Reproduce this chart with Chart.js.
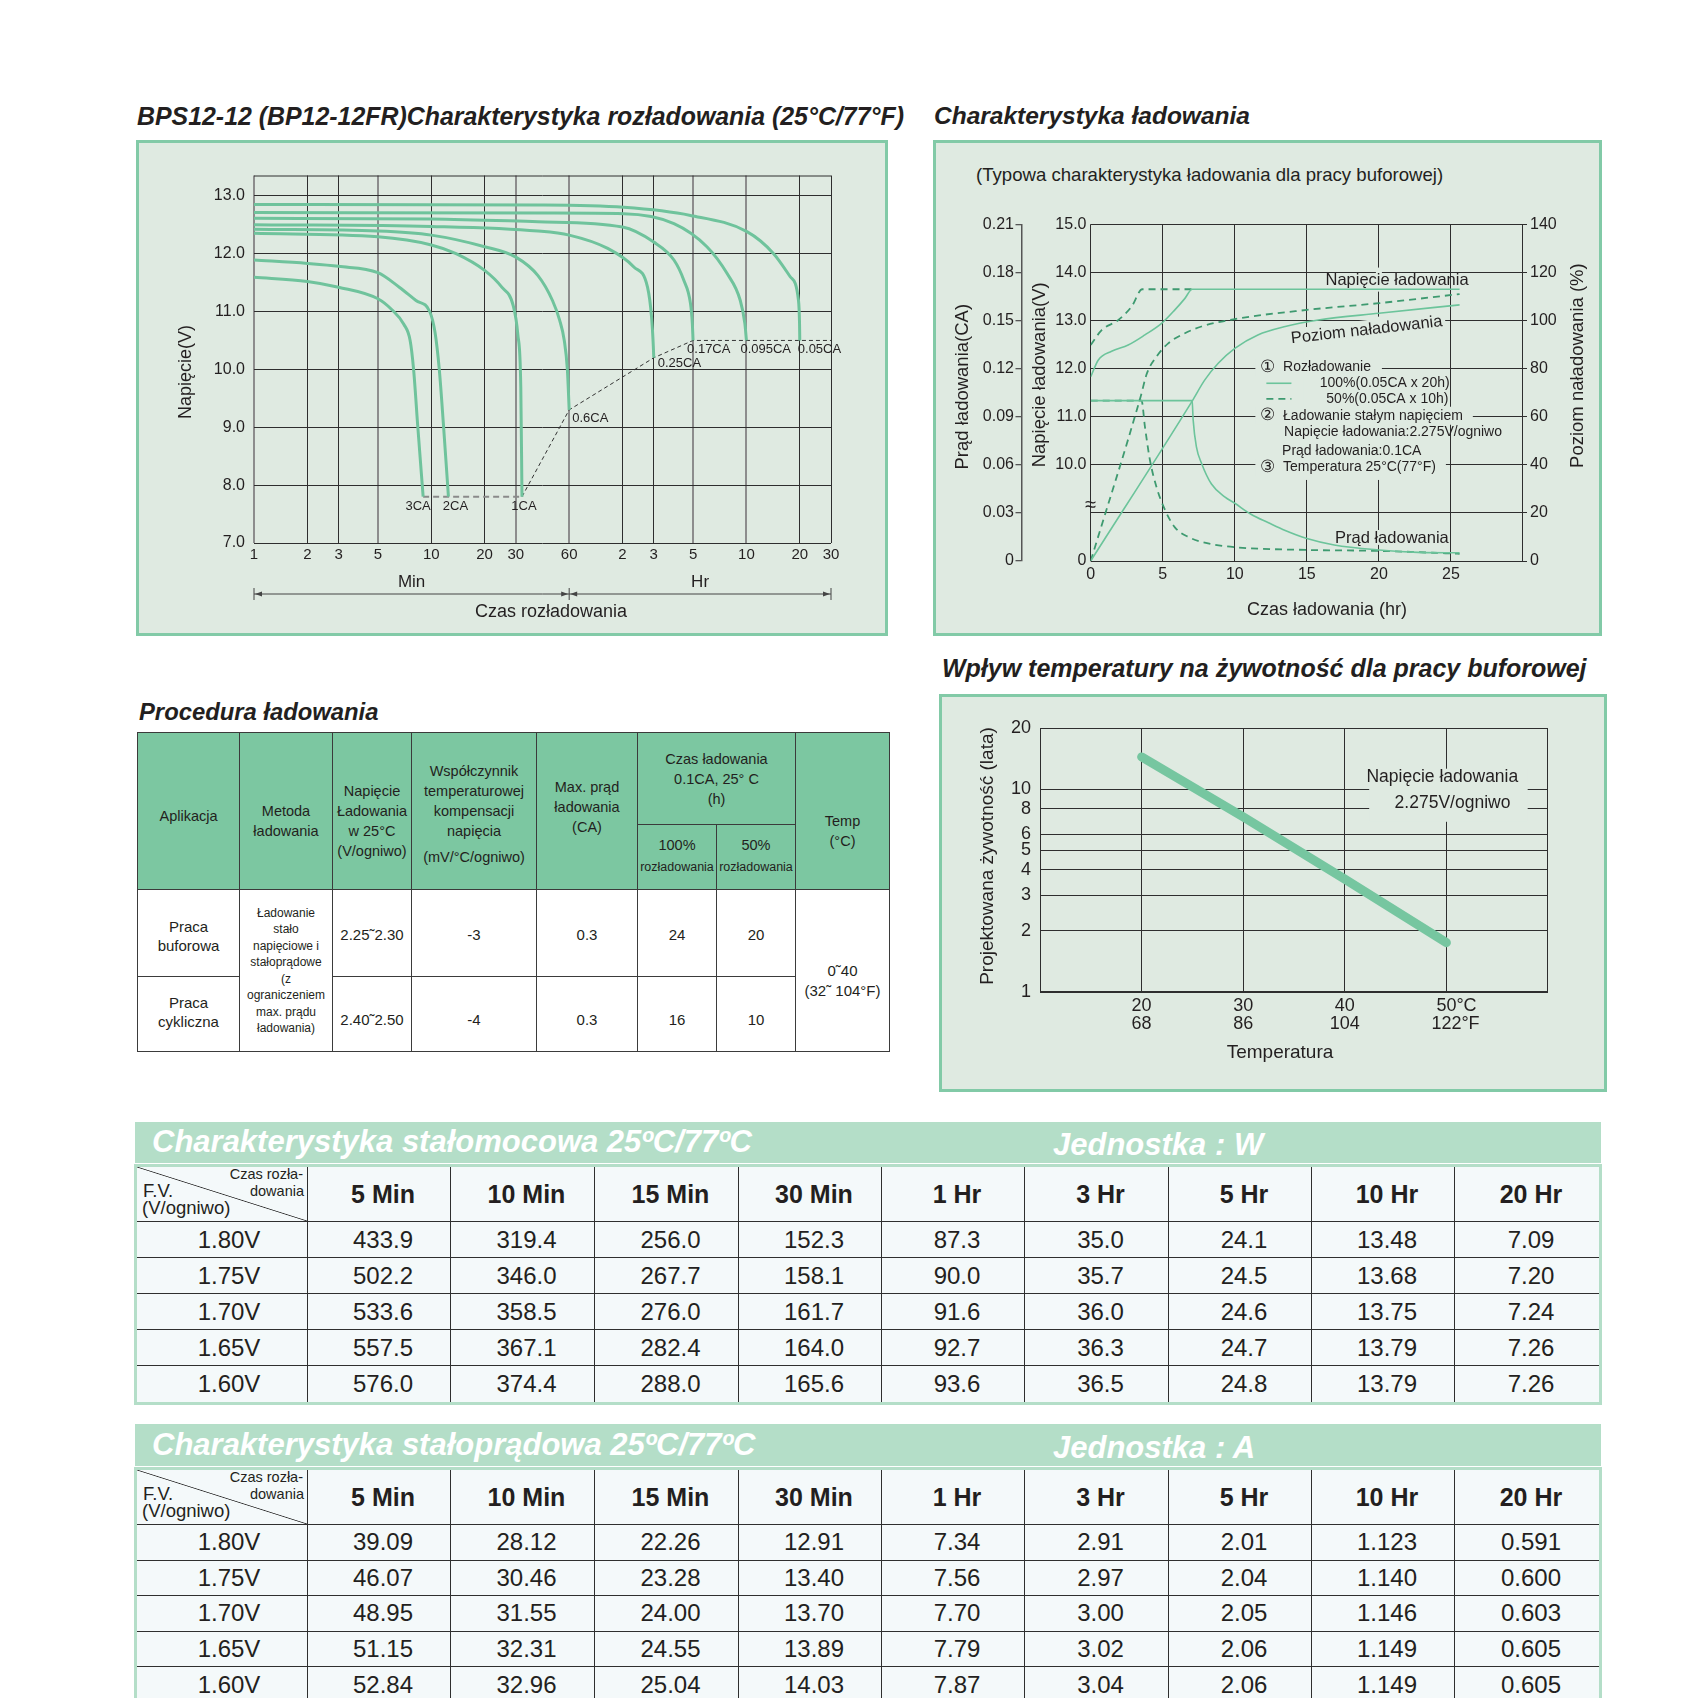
<!DOCTYPE html>
<html lang="pl">
<head>
<meta charset="UTF-8">
<meta name="viewport" content="width=device-width, initial-scale=1.0">
<title>BPS12-12 (BP12-12FR) - charakterystyki</title>
<script src="https://cdn.jsdelivr.net/npm/chart.js"></script>
<style>
  body { margin: 0; background: #fff; font-family: "Liberation Sans", Arial, sans-serif; color: #231f20; }
  #page { position: relative; width: 1693px; height: 1698px; overflow: hidden; }
  .title { position: absolute; font-size: 24.5px; line-height: 24px; font-weight: bold; font-style: italic; white-space: nowrap; }
  .panel { position: absolute; box-sizing: border-box; border: 3px solid #82caa7; background: #dfeae1; }
  .chart { position: absolute; }
  .note { position: absolute; font-size: 18.6px; line-height: 18px; white-space: nowrap; }

  .proc { position: absolute; left: 137px; top: 732px; display: grid;
          grid-template-columns: 102px 93px 79px 125px 101px 79px 79px 94px;
          grid-template-rows: 92px 65px 87px 75px;
          border-top: 1px solid #3b3b3b; border-left: 1px solid #3b3b3b; }
  .proc div { box-sizing: border-box; border-right: 1px solid #3b3b3b; border-bottom: 1px solid #3b3b3b;
              display: flex; flex-direction: column; align-items: center; justify-content: center;
              text-align: center; font-size: 14.5px; line-height: 20px; background: #fff; }
  .proc .hd { background: #7cc7a1; }
  .proc .small { font-size: 12.5px; line-height: 24px; }
  .proc .body { font-size: 15px; line-height: 19.5px; }
  .proc .method { font-size: 12px; line-height: 16.5px; }

  .banner { position: absolute; left: 135px; width: 1466px; background: #b4dec8; }
  .banner span { position: absolute; color: #fff; font-size: 31px; line-height: 31px; font-weight: bold; font-style: italic; white-space: nowrap; }
  .dt { position: absolute; left: 134px; display: grid;
        grid-template-columns: 171px 143px 144px 144px 143px 143px 144px 143px 143px 144px;
        border: 3px solid #b4dec8; background: #f4f9fa; }
  .dt div { box-sizing: border-box; border-right: 1px solid #2f2f2f; border-bottom: 1px solid #2f2f2f;
            display: flex; align-items: center; justify-content: center; font-size: 24px; padding-left: 8px; }
  .dt .fv { padding-left: 14px; }
  .dt .hd { font-weight: bold; font-size: 25px; }
  .dt .lc { border-right: none; }
  .dt .lr { border-bottom: none; }
  .dt .corner { position: relative; display: block; padding-left: 0;
                background: linear-gradient(to top right, transparent calc(50% - 0.8px), #333 50%, transparent calc(50% + 0.8px)); }
  .corner span { position: absolute; white-space: nowrap; }
  .corner .c1 { right: 4px; top: 0px; font-size: 14.5px; line-height: 15px; }
  .corner .c2 { right: 3px; top: 17px; font-size: 14.5px; line-height: 15px; }
  .corner .c3 { left: 6px; top: 15px; font-size: 18.5px; line-height: 17px; }
  .corner .c4 { left: 5px; top: 32px; font-size: 18.5px; line-height: 17px; }
</style>
</head>
<body>
<div id="page">

  <!-- titles -->
  <div class="title" style="left:137px; top:104px; font-size:24.9px;">BPS12-12 (BP12-12FR)Charakterystyka rozładowania (25°C/77°F)</div>
  <div class="title" style="left:934px; top:104px;">Charakterystyka ładowania</div>
  <div class="title" style="left:139px; top:700px; font-size:23.8px;">Procedura ładowania</div>
  <div class="title" style="left:942px; top:656px; font-size:25px;">Wpływ temperatury na żywotność dla pracy buforowej</div>

  <!-- chart panels -->
  <div class="panel" style="left:136px; top:140px; width:752px; height:496px;"></div>
  <div class="chart" style="left:136px; top:140px; width:752px; height:496px;"><canvas id="dischargeChart"></canvas></div>

  <div class="panel" style="left:933px; top:140px; width:669px; height:496px;"></div>
  <div class="note" style="left:976px; top:166px;">(Typowa charakterystyka ładowania dla pracy buforowej)</div>
  <div class="chart" style="left:933px; top:140px; width:669px; height:496px;"><canvas id="chargeChart"></canvas></div>

  <div class="panel" style="left:939px; top:694px; width:668px; height:398px;"></div>
  <div class="chart" style="left:939px; top:694px; width:668px; height:398px;"><canvas id="lifeChart"></canvas></div>

  <!-- charging procedure table -->
  <div class="proc">
    <div class="hd" style="grid-column:1; grid-row:1 / 3; padding-top:10px;">Aplikacja</div>
    <div class="hd" style="grid-column:2; grid-row:1 / 3; padding-top:19px;">Metoda<br>ładowania</div>
    <div class="hd" style="grid-column:3; grid-row:1 / 3; padding-top:19px;">Napięcie<br>Ładowania<br>w 25°C<br>(V/ogniwo)</div>
    <div class="hd" style="grid-column:4; grid-row:1 / 3; padding-top:5px;">Współczynnik<br>temperaturowej<br>kompensacji<br>napięcia<br><span style="margin-top:6px;">(mV/°C/ogniwo)</span></div>
    <div class="hd" style="grid-column:5; grid-row:1 / 3; padding-bottom:8px;">Max. prąd<br>ładowania<br>(CA)</div>
    <div class="hd" style="grid-column:6 / 8; grid-row:1;">Czas ładowania<br>0.1CA, 25° C<br>(h)</div>
    <div class="hd" style="grid-column:6; grid-row:2;">100%<span class="small">rozładowania</span></div>
    <div class="hd" style="grid-column:7; grid-row:2;">50%<span class="small">rozładowania</span></div>
    <div class="hd" style="grid-column:8; grid-row:1 / 3; padding-top:40px;">Temp<br>(°C)</div>

    <div class="body" style="grid-column:1; grid-row:3; padding-top:6px;">Praca<br>buforowa</div>
    <div class="method" style="grid-column:2; grid-row:3 / 5;">Ładowanie<br>stało<br>napięciowe i<br>stałoprądowe<br>(z<br>ograniczeniem<br>max. prądu<br>ładowania)</div>
    <div class="body" style="grid-column:3; grid-row:3; padding-top:4px;">2.25˜2.30</div>
    <div class="body" style="grid-column:4; grid-row:3; padding-top:4px;">-3</div>
    <div class="body" style="grid-column:5; grid-row:3; padding-top:4px;">0.3</div>
    <div class="body" style="grid-column:6; grid-row:3; padding-top:4px;">24</div>
    <div class="body" style="grid-column:7; grid-row:3; padding-top:4px;">20</div>
    <div class="body" style="grid-column:8; grid-row:3 / 5; padding-top:20px;">0˜40<br>(32˜ 104°F)</div>

    <div class="body" style="grid-column:1; grid-row:4; padding-bottom:4px;">Praca<br>cykliczna</div>
    <div class="body" style="grid-column:3; grid-row:4; padding-top:12px;">2.40˜2.50</div>
    <div class="body" style="grid-column:4; grid-row:4; padding-top:12px;">-4</div>
    <div class="body" style="grid-column:5; grid-row:4; padding-top:12px;">0.3</div>
    <div class="body" style="grid-column:6; grid-row:4; padding-top:12px;">16</div>
    <div class="body" style="grid-column:7; grid-row:4; padding-top:12px;">10</div>
  </div>

  <!-- constant power / constant current tables -->
  <div class="banner" style="top:1122px; height:41px;">
    <span style="left:17px; top:4px;">Charakterystyka stałomocowa 25ºC/77ºC</span>
    <span style="left:918px; top:7px;">Jednostka : W</span>
  </div>
  <div class="dt" id="powerTable" style="top:1164px;"></div>

  <div class="banner" style="top:1424px; height:42px;">
    <span style="left:17px; top:5px;">Charakterystyka stałoprądowa 25ºC/77ºC</span>
    <span style="left:918px; top:8px;">Jednostka : A</span>
  </div>
  <div class="dt" id="currentTable" style="top:1467px;"></div>
</div>

<script>
// ---------- discharge curves: [minutes, volts] ----------
const dischargeRates = ['3CA', '2CA', '1CA', '0.6CA', '0.25CA', '0.17CA', '0.095CA', '0.05CA'];
const c3CA   = [[1, 11.59], [2, 11.52], [3, 11.42], [5, 11.22], [6, 11.03], [7, 10.78], [7.6, 10.5], [7.95, 10.0], [8.4, 9.0], [9, 7.8]];
const c2CA   = [[1, 11.89], [2, 11.83], [3, 11.78], [5, 11.67], [6.6, 11.42], [8.2, 11.19], [9.8, 11.0], [10.5, 10.64], [11.1, 10.0], [11.7, 9.07], [12.5, 7.8]];
const c1CA   = [[1, 12.35], [5, 12.29], [10, 12.15], [13.8, 12.0], [20, 11.71], [25, 11.42], [29, 11.1], [30.8, 10.6], [32, 9.7], [32.5, 7.8]];
const c06CA  = [[1, 12.42], [5, 12.39], [10, 12.32], [20, 12.12], [30, 11.94], [40, 11.62], [48.3, 11.19], [53, 10.85], [56.3, 10.5], [58.6, 10.0], [60, 9.3]];
const c025CA = [[1, 12.50], [10, 12.47], [40, 12.39], [60, 12.32], [99, 12.09], [139, 11.77], [166, 11.42], [175, 10.9], [179, 10.4], [180, 10.2]];
const c017CA = [[1, 12.61], [10, 12.60], [40, 12.55], [120, 12.46], [180, 12.20], [234, 11.89], [266, 11.54], [290, 11.14], [297, 10.8], [300, 10.5]];
const c0095CA = [[1, 12.71], [46, 12.70], [122, 12.69], [234, 12.52], [359, 12.12], [466, 11.66], [554, 11.19], [588, 10.79], [600, 10.5]];
const c005CA = [[1, 12.85], [40, 12.84], [122, 12.80], [290, 12.66], [604, 12.38], [854, 12.0], [1060, 11.60], [1180, 11.19], [1196, 10.8], [1200, 10.5]];
const dischargeCurves = [c3CA, c2CA, c1CA, c06CA, c025CA, c017CA, c0095CA, c005CA];
const cutoffLine = [[9, 7.8], [12.5, 7.8], [32.5, 7.8], [60, 9.3], [180, 10.2], [300, 10.5], [1800, 10.5]];
const dischargeTicks = [1, 2, 3, 5, 10, 20, 30, 60, 120, 180, 300, 600, 1200, 1800];
const dischargeTickLabels = ['1', '2', '3', '5', '10', '20', '30', '60', '2', '3', '5', '10', '20', '30'];
const greyTimeLines = [1, 5, 30, 60, 300, 600];
const voltTicks = [7, 8, 9, 10, 11, 12, 13];

// ---------- charging characteristics: [hours, value] ----------
const chargeVolt100 = [[0, 11.83], [0.53, 12.18], [1.45, 12.36], [2.6, 12.49], [3.76, 12.70], [4.92, 12.94], [5.84, 13.22], [6.54, 13.46], [7.04, 13.65], [25.6, 13.65]];
const chargeVolt50  = [[0, 12.49], [0.76, 12.80], [1.92, 13.01], [2.84, 13.29], [3.58, 13.65], [7.04, 13.65]];
const level100 = [[0, 0], [7.04, 66.5], [7.92, 75.3], [8.85, 82.2], [10, 88.4], [11.6, 94.0], [13.5, 97.5], [15.8, 100.2], [20, 103], [25.6, 106.5]];
const level50  = [[0, 0], [3.45, 68], [3.9, 78], [4.57, 85], [5.38, 90.5], [6.54, 94.7], [7.69, 97.5], [10, 100.6], [15, 104.4], [20, 107.2], [25.6, 111]];
const current100 = [[0, 0.1], [7.04, 0.1], [7.11, 0.088], [7.34, 0.071], [7.69, 0.061], [8.38, 0.048], [9.3, 0.040], [10, 0.036], [11.15, 0.029], [12.3, 0.024], [13.5, 0.019], [15, 0.014], [16.9, 0.010], [20, 0.0069], [22.7, 0.0054], [25.6, 0.0051]];
const current50  = [[0, 0.1], [3.53, 0.1], [3.76, 0.084], [4.11, 0.063], [4.57, 0.046], [5.15, 0.032], [5.84, 0.021], [6.77, 0.015], [8.15, 0.011], [10, 0.0086], [15, 0.0069], [20, 0.0063], [25.6, 0.0045]];
const chargeHourTicks = [0, 5, 10, 15, 20, 25];
const currentTicks = [0, 0.03, 0.06, 0.09, 0.12, 0.15, 0.18, 0.21];
const currentTickLabels = ['0', '0.03', '0.06', '0.09', '0.12', '0.15', '0.18', '0.21'];
const chargeVoltTicks = [8, 10, 11, 12, 13, 14, 15];          // axis is broken below 10 V
const chargeVoltTickLabels = ['0', '10.0', '11.0', '12.0', '13.0', '14.0', '15.0'];
const levelTicks = [0, 20, 40, 60, 80, 100, 120, 140];

// ---------- float life vs temperature ----------
const tempC = [20, 30, 40, 50];
const lifeYears = [14.4, 7.3, 3.6, 1.75];
const tempTicks = [20, 30, 40, 50];
const tempTickLabels = [['20', '68'], ['30', '86'], ['40', '104'], ['50°C', '122°F']];
const lifeTicks = [1, 2, 3, 4, 5, 6, 8, 10, 20];

// ---------- tables ----------
const durationHeaders = ['5 Min', '10 Min', '15 Min', '30 Min', '1 Hr', '3 Hr', '5 Hr', '10 Hr', '20 Hr'];
const finalVoltages = ['1.80V', '1.75V', '1.70V', '1.65V', '1.60V'];
const powerW = [
  ['433.9', '319.4', '256.0', '152.3', '87.3', '35.0', '24.1', '13.48', '7.09'],
  ['502.2', '346.0', '267.7', '158.1', '90.0', '35.7', '24.5', '13.68', '7.20'],
  ['533.6', '358.5', '276.0', '161.7', '91.6', '36.0', '24.6', '13.75', '7.24'],
  ['557.5', '367.1', '282.4', '164.0', '92.7', '36.3', '24.7', '13.79', '7.26'],
  ['576.0', '374.4', '288.0', '165.6', '93.6', '36.5', '24.8', '13.79', '7.26']
];
const currentA = [
  ['39.09', '28.12', '22.26', '12.91', '7.34', '2.91', '2.01', '1.123', '0.591'],
  ['46.07', '30.46', '23.28', '13.40', '7.56', '2.97', '2.04', '1.140', '0.600'],
  ['48.95', '31.55', '24.00', '13.70', '7.70', '3.00', '2.05', '1.146', '0.603'],
  ['51.15', '32.31', '24.55', '13.89', '7.79', '3.02', '2.06', '1.149', '0.605'],
  ['52.84', '32.96', '25.04', '14.03', '7.87', '3.04', '2.06', '1.149', '0.605']
];

function buildDataTable(id, values, rowH) {
  const el = document.getElementById(id);
  el.style.gridTemplateRows = '55px repeat(' + finalVoltages.length + ', ' + rowH + 'px)';
  let html = '<div class="corner"><span class="c1">Czas rozła-</span><span class="c2">dowania</span>' +
             '<span class="c3">F.V.</span><span class="c4">(V/ogniwo)</span></div>';
  durationHeaders.forEach((h, j) => {
    html += '<div class="hd' + (j === durationHeaders.length - 1 ? ' lc' : '') + '">' + h + '</div>';
  });
  finalVoltages.forEach((fv, i) => {
    const lr = i === finalVoltages.length - 1 ? ' lr' : '';
    html += '<div class="fv' + lr + '">' + fv + '</div>';
    values[i].forEach((v, j) => {
      html += '<div class="' + (j === values[i].length - 1 ? 'lc' : '') + lr + '">' + v + '</div>';
    });
  });
  el.innerHTML = html;
}
buildDataTable('powerTable', powerW, 36);
buildDataTable('currentTable', currentA, 35.5);

// ---------- charts ----------
const FONT = '"Liberation Sans", Arial, sans-serif';
const TEXT = '#231f20';
const GRID = '#2e2e2e';
const PANEL_BG = '#dfeae1';
const CURVE = '#6fc39c';
const SOLID = '#6cc49b';
const DASHED = '#3e9a70';

Chart.defaults.font.family = FONT;
Chart.defaults.color = TEXT;
Chart.defaults.animation = false;
Chart.defaults.plugins.legend.display = false;
Chart.defaults.plugins.tooltip.enabled = false;
Chart.defaults.elements.point.radius = 0;

const toXY = arr => arr.map(p => ({ x: p[0], y: p[1] }));
const setTicks = list => scale => { scale.ticks = list.map(v => ({ value: v })); };

// axis titles drawn by hand so they can sit where the original has them
function drawTitles(ctx, titles) {
  ctx.save();
  ctx.fillStyle = TEXT; ctx.textAlign = 'center'; ctx.textBaseline = 'middle';
  titles.forEach(([text, tx, ty, size, rotated]) => {
    ctx.font = size + 'px ' + FONT;
    ctx.save(); ctx.translate(tx, ty);
    if (rotated) ctx.rotate(-Math.PI / 2);
    ctx.fillText(text, 0, 0);
    ctx.restore();
  });
  ctx.restore();
}

// label offsets (px) from the end of each discharge curve
const rateLabelOffset = {
  '3CA': [-5, 10, 'center'], '2CA': [7, 10, 'center'], '1CA': [2, 10, 'center'],
  '0.6CA': [3, 9, 'left'], '0.25CA': [4, 6, 'left'], '0.17CA': [-6, 9, 'left'],
  '0.095CA': [-6, 9, 'left'], '0.05CA': [-2, 9, 'left']
};

const dischargeExtras = {
  id: 'dischargeExtras',
  beforeDatasetsDraw(chart) {
    const { ctx, chartArea: a } = chart;
    ctx.save();
    ctx.strokeStyle = GRID; ctx.lineWidth = 1;
    ctx.beginPath(); ctx.moveTo(a.left, a.top + 0.5); ctx.lineTo(a.right, a.top + 0.5); ctx.stroke();
    ctx.restore();
  },
  afterDatasetsDraw(chart) {
    const { ctx, chartArea: a, scales: { x, y } } = chart;
    ctx.save();
    ctx.fillStyle = TEXT; ctx.textBaseline = 'middle';
    ctx.font = '13px ' + FONT;
    dischargeRates.forEach((rate, i) => {
      const curve = dischargeCurves[i];
      const end = curve[curve.length - 1];
      const [dx, dy, align] = rateLabelOffset[rate];
      ctx.textAlign = align;
      ctx.fillText(rate, x.getPixelForValue(end[0]) + dx, y.getPixelForValue(end[1]) + dy);
    });
    // Min / Hr bracket under the axis
    const x1 = x.getPixelForValue(1), x60 = x.getPixelForValue(60), xEnd = x.getPixelForValue(1800);
    const yText = a.bottom + 39, yLine = a.bottom + 51;
    ctx.font = '17px ' + FONT; ctx.textAlign = 'center';
    ctx.fillText('Min', (x1 + x60) / 2, yText);
    ctx.fillText('Hr', (x60 + xEnd) / 2, yText);
    ctx.strokeStyle = '#444'; ctx.lineWidth = 1;
    ctx.beginPath();
    ctx.moveTo(x1, yLine); ctx.lineTo(xEnd, yLine);
    [x1, x60, xEnd].forEach(px => { ctx.moveTo(px, yLine - 6); ctx.lineTo(px, yLine + 6); });
    ctx.stroke();
    ctx.fillStyle = '#444';
    const arrow = (px, dir) => {
      ctx.beginPath(); ctx.moveTo(px, yLine); ctx.lineTo(px + dir * 7, yLine - 2.5); ctx.lineTo(px + dir * 7, yLine + 2.5);
      ctx.closePath(); ctx.fill();
    };
    arrow(x1 + 1, 1); arrow(x60 - 1, -1); arrow(x60 + 1, 1); arrow(xEnd - 1, -1);
    ctx.restore();
    drawTitles(ctx, [['Czas rozładowania', (a.left + a.right) / 2 + 8.5, 472, 18, false],
                     ['Napięcie(V)', 50, 232, 18, true]]);
  }
};

new Chart(document.getElementById('dischargeChart'), {
  type: 'line',
  data: {
    datasets: [
      ...dischargeCurves.map(c => ({ data: toXY(c), borderColor: CURVE, borderWidth: 3, cubicInterpolationMode: 'monotone' })),
      {
        data: toXY(cutoffLine), borderColor: '#333', borderWidth: 1, borderDash: [4, 3],
        segment: {
          borderColor: s => s.p1DataIndex <= 2 ? '#8a8a8a' : '#333',
          borderWidth: s => s.p1DataIndex <= 2 ? 2 : 1,
          borderDash: s => s.p1DataIndex <= 2 ? [6, 4] : [4, 3]
        }
      }
    ]
  },
  options: {
    responsive: true, maintainAspectRatio: false,
    layout: { padding: { top: 35.5, right: 57, left: 0, bottom: 0 } },
    scales: {
      x: {
        type: 'logarithmic', min: 1, max: 1800,
        afterBuildTicks: setTicks(dischargeTicks),
        afterFit: s => { s.height = 93; },
        ticks: { autoSkip: false, maxRotation: 0, padding: 3, font: { size: 15 }, callback: (v, i) => dischargeTickLabels[i] },
        grid: {
          drawTicks: false,
          color: c => greyTimeLines.includes(c.tick && c.tick.value) ? '#8d8d8d' : GRID,
          lineWidth: c => greyTimeLines.includes(c.tick && c.tick.value) ? 2 : 1
        },
        border: { display: false }
      },
      y: {
        min: 7, max: 13.35,
        afterBuildTicks: setTicks(voltTicks),
        afterFit: s => { s.width = 118; },
        ticks: { padding: 9, font: { size: 16 }, callback: v => v.toFixed(1) },
        grid: { drawTicks: false, color: GRID },
        border: { display: false }
      }
    }
  },
  plugins: [dischargeExtras]
});

// charging chart annotations (positions in hours / % of the right axis)
const chargeLegend = [
  { sym: '①', text: 'Rozładowanie', x: 13.35, y: 80.5, gap: true },
  { text: '100%(0.05CA x 20h)', x: 15.89, y: 73.9, sample: 'solid' },
  { text: '50%(0.05CA x 10h)', x: 16.35, y: 67.4, sample: 'dash' },
  { sym: '②', text: 'Ładowanie stałym napięciem', x: 13.35, y: 60.4, gap: true },
  { text: 'Napięcie ładowania:2.275V/ogniwo', x: 13.42, y: 53.4 },
  { text: 'Prąd ładowania:0.1CA', x: 13.28, y: 45.7 },
  { sym: '③', text: 'Temperatura 25°C(77°F)', x: 13.35, y: 39.0, gap: true }
];
const gridGaps = [[15, 33.7, 96], [20, 33.7, 101.6], [20, 112, 122], [20, 6.7, 12.9]];

const chargeExtras = {
  id: 'chargeExtras',
  beforeDatasetsDraw(chart) {
    const { ctx, chartArea: a, scales: { x, yP } } = chart;
    ctx.save();
    // right frame line
    ctx.strokeStyle = GRID; ctx.lineWidth = 1;
    ctx.beginPath(); ctx.moveTo(a.right - 0.5, a.top); ctx.lineTo(a.right - 0.5, a.bottom); ctx.stroke();
    ctx.fillStyle = PANEL_BG;
    gridGaps.forEach(([hx, lo, hi]) => {
      const px = x.getPixelForValue(hx);
      ctx.fillRect(px - 3, yP.getPixelForValue(hi), 6, yP.getPixelForValue(lo) - yP.getPixelForValue(hi));
    });
    ctx.font = '14px ' + FONT;
    chargeLegend.filter(l => l.gap).forEach(l => {
      const x0 = x.getPixelForValue(12.26) - 12;
      const x1 = x.getPixelForValue(l.x) + ctx.measureText(l.text).width + 10;
      const py = yP.getPixelForValue(l.y);
      ctx.fillRect(x0, py - 9, x1 - x0, 18);
    });
    // background behind the slanted label
    ctx.font = '16.5px ' + FONT;
    const w = ctx.measureText('Poziom naładowania').width;
    ctx.translate(x.getPixelForValue(19.15), yP.getPixelForValue(96));
    ctx.rotate(-6.5 * Math.PI / 180);
    ctx.fillRect(-w / 2 - 3, -10, w + 6, 20);
    ctx.restore();
  },
  afterDatasetsDraw(chart) {
    const { ctx, chartArea: a, scales: { x, yP, yV } } = chart;
    ctx.save();
    ctx.fillStyle = TEXT; ctx.textBaseline = 'middle';
    ctx.font = '16.5px ' + FONT; ctx.textAlign = 'center';
    ctx.fillText('Napięcie ładowania', x.getPixelForValue(21.26), yP.getPixelForValue(116.8));
    ctx.fillText('Prąd ładowania', x.getPixelForValue(20.9), yP.getPixelForValue(9.4));
    ctx.save();
    ctx.translate(x.getPixelForValue(19.15), yP.getPixelForValue(96));
    ctx.rotate(-6.5 * Math.PI / 180);
    ctx.fillText('Poziom naładowania', 0, 0);
    ctx.restore();

    ctx.textAlign = 'left';
    chargeLegend.forEach(l => {
      const py = yP.getPixelForValue(l.y);
      if (l.sym) {
        ctx.font = '17px ' + FONT; ctx.textAlign = 'center';
        ctx.fillText(l.sym, x.getPixelForValue(12.26), py);
        ctx.textAlign = 'left';
      }
      ctx.font = '14px ' + FONT;
      ctx.fillText(l.text, x.getPixelForValue(l.x), py);
      if (l.sample) {
        ctx.strokeStyle = l.sample === 'solid' ? SOLID : DASHED;
        ctx.lineWidth = l.sample === 'solid' ? 1.6 : 1.8;
        ctx.setLineDash(l.sample === 'solid' ? [] : [7, 5]);
        ctx.beginPath(); ctx.moveTo(x.getPixelForValue(12.19), py); ctx.lineTo(x.getPixelForValue(13.93), py); ctx.stroke();
        ctx.setLineDash([]);
      }
    });

    // axis break mark on the voltage axis
    ctx.font = '20px ' + FONT; ctx.textAlign = 'center';
    ctx.fillText('≈', a.left, yV.getPixelForValue(9.15));
    ctx.restore();

    drawTitles(ctx, [['Prąd ładowania(CA)', 30, 246.7, 18.5, true],
                     ['Napięcie ładowania(V)', 107, 234.8, 18.5, true],
                     ['Poziom naładowania (%)', 645, 225.6, 18.5, true],
                     ['Czas ładowania (hr)', 394, 470, 18, false]]);
  }
};

new Chart(document.getElementById('chargeChart'), {
  type: 'line',
  data: {
    datasets: [
      { data: toXY(chargeVolt100), yAxisID: 'yV', borderColor: SOLID, borderWidth: 1.6, cubicInterpolationMode: 'monotone' },
      { data: toXY(chargeVolt50), yAxisID: 'yV', borderColor: DASHED, borderWidth: 1.8, borderDash: [7, 5], cubicInterpolationMode: 'monotone' },
      { data: toXY(level100), yAxisID: 'yP', borderColor: SOLID, borderWidth: 1.6, cubicInterpolationMode: 'monotone' },
      { data: toXY(level50), yAxisID: 'yP', borderColor: DASHED, borderWidth: 1.8, borderDash: [7, 5], cubicInterpolationMode: 'monotone' },
      { data: toXY(current100), yAxisID: 'yI', borderColor: SOLID, borderWidth: 1.6, cubicInterpolationMode: 'monotone' },
      { data: toXY(current50), yAxisID: 'yI', borderColor: DASHED, borderWidth: 1.8, borderDash: [7, 5], cubicInterpolationMode: 'monotone' }
    ]
  },
  options: {
    responsive: true, maintainAspectRatio: false,
    layout: { padding: { top: 84.3, right: 0, left: 0, bottom: 0 } },
    scales: {
      x: {
        type: 'linear', min: 0, max: 30,
        afterBuildTicks: setTicks(chargeHourTicks),
        afterFit: s => { s.height = 75; },
        ticks: { padding: 4.4, font: { size: 16 }, maxRotation: 0, callback: v => String(v) },
        grid: { drawTicks: false, color: GRID },
        border: { display: false }
      },
      yI: {
        position: 'left', weight: 1, min: 0, max: 0.21,
        afterBuildTicks: setTicks(currentTicks),
        afterFit: s => { s.width = 88.5; },
        ticks: { padding: 1.5, font: { size: 16 }, callback: (v, i) => currentTickLabels[i] },
        grid: { drawOnChartArea: false, drawTicks: true, tickLength: 6, color: '#555', lineWidth: 1.3 },
        border: { display: true, color: '#555', width: 1.5 }
      },
      yV: {
        position: 'left', weight: 0, min: 8, max: 15,
        afterBuildTicks: setTicks(chargeVoltTicks),
        afterFit: s => { s.width = 69.2; },
        ticks: { padding: 4.2, font: { size: 16 }, callback: (v, i) => chargeVoltTickLabels[i] },
        grid: { display: false, drawTicks: false },
        border: { display: false }
      },
      yP: {
        position: 'right', min: 0, max: 140,
        afterBuildTicks: setTicks(levelTicks),
        afterFit: s => { s.width = 79; },
        ticks: { padding: 3, font: { size: 16 }, callback: v => String(v) },
        grid: { drawTicks: true, tickLength: 4, color: GRID },
        border: { display: false }
      }
    }
  },
  plugins: [chargeExtras]
});

const lifeExtras = {
  id: 'lifeExtras',
  beforeDatasetsDraw(chart) {
    const { ctx, chartArea: a, scales: { x, y } } = chart;
    ctx.save();
    ctx.fillStyle = PANEL_BG;
    const l = x.getPixelForValue(42.4), r = x.getPixelForValue(58), t = y.getPixelForValue(12.6), b = y.getPixelForValue(6.9);
    ctx.fillRect(l, t, r - l, b - t);
    ctx.strokeStyle = GRID; ctx.lineWidth = 1;
    ctx.strokeRect(a.left + 0.5, a.top + 0.5, a.width - 1, a.height - 1);
    ctx.restore();
  },
  afterDatasetsDraw(chart) {
    const { ctx, chartArea: a, scales: { x, y } } = chart;
    ctx.save();
    ctx.fillStyle = TEXT; ctx.textBaseline = 'middle'; ctx.textAlign = 'center';
    ctx.font = '17.5px ' + FONT;
    ctx.fillText('Napięcie ładowania', x.getPixelForValue(49.6), y.getPixelForValue(11.4));
    ctx.fillText('2.275V/ogniwo', x.getPixelForValue(50.6), y.getPixelForValue(8.56));
    // two-line temperature tick labels: number centred on the grid line, unit hanging to the right
    ctx.font = '18px ' + FONT; ctx.textAlign = 'left';
    tempTicks.forEach((t, i) => {
      const px = x.getPixelForValue(t);
      tempTickLabels[i].forEach((txt, j) => {
        const num = (txt.match(/^[\d.]+/) || [txt])[0];
        ctx.fillText(txt, px - ctx.measureText(num).width / 2, a.bottom + 14 + j * 18);
      });
    });
    ctx.restore();
    drawTitles(ctx, [['Temperatura', 341, 359, 19, false],
                     ['Projektowana żywotność (lata)', 49, (a.top + a.bottom) / 2 - 4, 19, true]]);
  }
};

new Chart(document.getElementById('lifeChart'), {
  type: 'line',
  data: {
    datasets: [{
      data: tempC.map((t, i) => ({ x: t, y: lifeYears[i] })),
      borderColor: '#76c6a0', borderWidth: 9, borderCapStyle: 'round', tension: 0
    }]
  },
  options: {
    responsive: true, maintainAspectRatio: false,
    layout: { padding: { top: 34, right: 59, left: 0, bottom: 0 } },
    scales: {
      x: {
        type: 'linear', min: 10, max: 60,
        afterBuildTicks: setTicks(tempTicks),
        afterFit: s => { s.height = 100; },
        ticks: { display: false },
        grid: { drawTicks: false, color: GRID },
        border: { display: false }
      },
      y: {
        type: 'logarithmic', min: 1, max: 20,
        afterBuildTicks: setTicks(lifeTicks),
        afterFit: s => { s.width = 101; },
        ticks: { padding: 9, font: { size: 18 }, callback: (v, i) => String(lifeTicks[i]) },
        grid: { drawTicks: false, color: GRID },
        border: { display: false }
      }
    }
  },
  plugins: [lifeExtras]
});
</script>
</body>
</html>
